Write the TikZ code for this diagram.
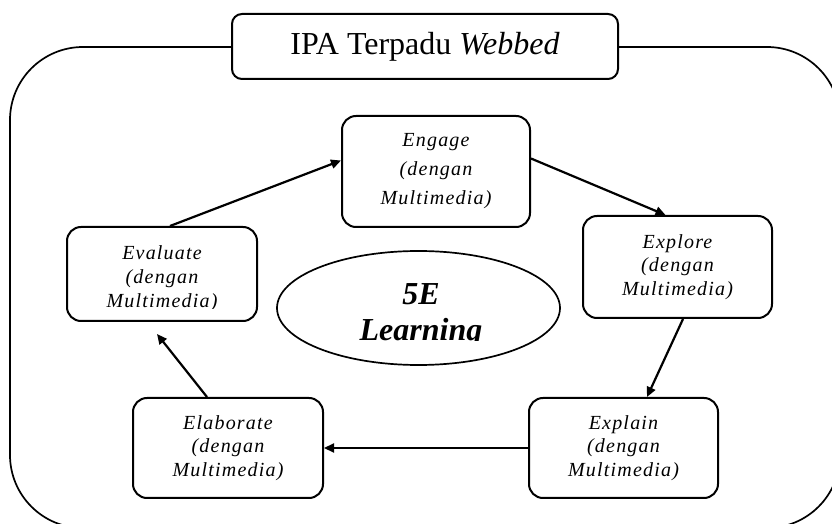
\documentclass[tikz,border=0pt]{standalone}
\usepackage{fontspec}
\setmainfont{Liberation Serif}
\newfontfamily\spaced[LetterSpace=6]{Liberation Serif}
\usetikzlibrary{arrows.meta,shapes.geometric}
\tikzset{
  stepbox/.style={draw,line width=1pt,rounded corners=7pt,fill=white,inner sep=0pt,align=center,
    font=\spaced\itshape\fontsize{10}{11.75}\selectfont},
  steptext/.style={inner sep=0pt,align=center,font=\spaced\itshape\fontsize{10}{12}\selectfont},
  flow/.style={line width=1.1pt,-{Triangle[length=5pt,width=4.5pt]}},
}
\begin{document}
\begin{tikzpicture}[x=0.5pt,y=-0.5pt]
\useasboundingbox (0,0) rectangle (832,524);
% outer frame, runs past the page on the right and bottom
\begin{scope}
\clip (0,0) rectangle (832,524);
\draw[line width=0.85pt,rounded corners=36.5pt] (10,47) rectangle (840,528);
\end{scope}
\node[draw,line width=1pt,rounded corners=5pt,fill=white,minimum width=193pt,minimum height=32.5pt,
  font=\fontsize{16}{19}\selectfont] (title) at (425,46.5) {IPA Terpadu \textit{Webbed}};
% the five steps
\node[stepbox,minimum width=94pt,minimum height=55.5pt,font=\spaced\itshape\fontsize{10}{14.5}\selectfont]
  (engage) at (436,171.5) {Engage\\(dengan\\Multimedia)};
\node[stepbox,minimum width=94.5pt,minimum height=51pt] (explore) at (677.5,267) {Explore\\(dengan\\Multimedia)};
\node[stepbox,minimum width=94.5pt,minimum height=50pt] (explain) at (623.5,448) {Explain\\(dengan\\Multimedia)};
\node[stepbox,minimum width=95pt,minimum height=50pt] (elaborate) at (228,448) {Elaborate\\(dengan\\Multimedia)};
\node[stepbox,minimum width=95pt,minimum height=47pt] (evaluate) at (162,274) {};
\begin{scope}
\clip (70,230) rectangle (254,309);
\node[steptext] (evaluatetext) at (162,279) {Evaluate\\(dengan\\Multimedia)};
\end{scope}
% centre
\node[draw,ellipse,line width=0.85pt,inner sep=0pt,minimum width=141.5pt,minimum height=57pt] (hub) at (418.5,308) {};
\begin{scope}
\clip (300,260) rectangle (540,341);
\node[inner sep=0pt,align=center,font=\bfseries\itshape\fontsize{16}{18}\selectfont] (hubtext) at (421,315) {5E\\Learning};
\end{scope}
% cycle
\draw[flow] ([xshift=4pt]evaluate.north) -- ([yshift=5.5pt]engage.west);
\draw[flow] ([yshift=6.5pt]engage.east) -- ([xshift=-6pt]explore.north);
\draw[flow] ([xshift=2.75pt]explore.south) -- ([xshift=11.75pt]explain.north);
\draw[flow] (explain.west) -- (elaborate.east);
\draw[flow] ([xshift=-10.5pt]elaborate.north) -- ([xshift=-2.5pt,yshift=-6pt]evaluate.south);
\end{tikzpicture}
\end{document}
